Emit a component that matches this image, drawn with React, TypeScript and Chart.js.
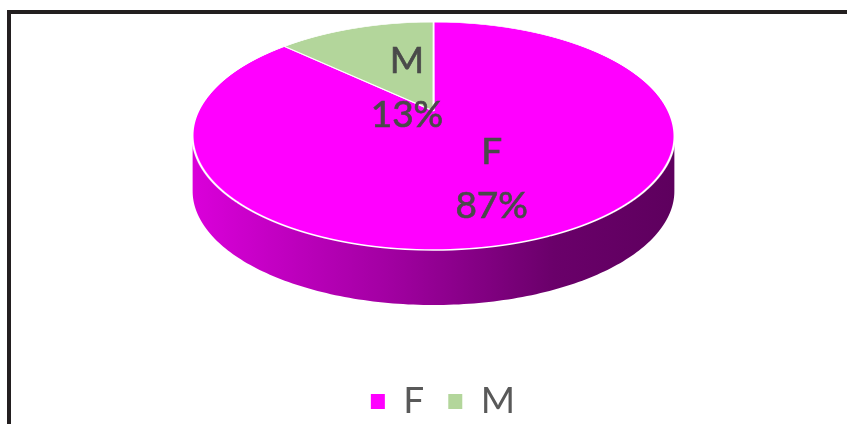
import React, { useEffect, useRef } from "react";
import { Chart, registerables } from "chart.js";

Chart.register(...registerables);

const categories = ["F", "M"];
const values = [87, 13];
const sliceColors = ["#FF00FF", "#B3D69B"];
const sideColors = ["#A000A0", "#7FA66A"];

// perspective projection of the pie's disc (circle -> tilted view)
const X0 = 433.5; // projected centre x
const Y0 = 111; // projected centre y
const A = 235; // horizontal radius factor
const B = 108.5; // vertical radius factor
const K = -0.2195; // perspective strength
const DEPTH = 55; // thickness of the pie
const LABEL_R = 0.45;
const LABEL_DX = 12;
const LABEL_DY = 18.5;

function proj(u: number, v: number): [number, number] {
  const w = 1 + K * v;
  return [X0 + (A * u) / w, Y0 + (B * v) / w];
}
function invV(Y: number) {
  const d = Y - Y0;
  return d / (B - K * d);
}

const pie3d = {
  id: "pie3d",
  beforeDatasetsDraw(chart: any) {
    const ctx = chart.ctx as CanvasRenderingContext2D;
    const arcs = chart.getDatasetMeta(0).data as any[];
    if (!arcs.length) return;

    // ---- side wall (visible front part) ----
    const grad = ctx.createLinearGradient(X0 - 241, 0, X0 + 241, 0);
    grad.addColorStop(0, "#DA00DA");
    grad.addColorStop(0.4, "#A300A3");
    grad.addColorStop(0.75, "#6A006A");
    grad.addColorStop(1, "#5E005E");
    const thR = Math.asin(-K);
    const thL = Math.PI - thR;
    arcs.forEach((arc, i) => {
      const { startAngle, endAngle } = arc.getProps(["startAngle", "endAngle"], true);
      for (const off of [-2 * Math.PI, 0, 2 * Math.PI]) {
        const a0 = Math.max(startAngle, off + thR);
        const a1 = Math.min(endAngle, off + thL);
        if (a1 <= a0) continue;
        const N = 160;
        ctx.beginPath();
        for (let j = 0; j <= N; j++) {
          const t = a0 + ((a1 - a0) * j) / N;
          const [x, y] = proj(Math.cos(t), Math.sin(t));
          if (j === 0) ctx.moveTo(x, y);
          else ctx.lineTo(x, y);
        }
        for (let j = N; j >= 0; j--) {
          const t = a0 + ((a1 - a0) * j) / N;
          const [x, y] = proj(Math.cos(t), Math.sin(t));
          ctx.lineTo(x, y + DEPTH);
        }
        ctx.closePath();
        ctx.fillStyle = i === 0 ? grad : sideColors[i];
        ctx.fill();
      }
    });

    // ---- top face: the library's arcs, drawn row by row through the projection ----
    const a = arcs[0];
    const R = a.outerRadius;
    const ax = a.x;
    const ay = a.y;
    const yTop = Math.floor(Y0 - B / (1 - K)) - 2;
    const yBot = Math.ceil(Y0 + B / (1 + K)) + 2;
    for (let y = yTop; y < yBot; y++) {
      const v0 = invV(y);
      const v1 = invV(y + 1);
      const vm = (v0 + v1) / 2;
      const sx = A / (1 + K * vm) / R;
      const sy = 1 / ((v1 - v0) * R);
      ctx.save();
      ctx.beginPath();
      ctx.rect(0, y, chart.width, 1);
      ctx.clip();
      ctx.translate(X0, y);
      ctx.scale(sx, sy);
      ctx.translate(-ax, -(ay + v0 * R));
      arcs.forEach((el) => el.draw(ctx));
      ctx.restore();
    }

    // ---- data labels ----
    const total = values.reduce((s, v) => s + v, 0);
    ctx.save();
    ctx.font = "37px Lato";
    ctx.fillStyle = "#4A4A4A";
    ctx.strokeStyle = "#4A4A4A";
    ctx.lineWidth = 0.7;
    ctx.textAlign = "center";
    ctx.textBaseline = "middle";
    arcs.forEach((arc, i) => {
      const { startAngle, endAngle } = arc.getProps(["startAngle", "endAngle"], true);
      const mid = (startAngle + endAngle) / 2;
      const [px, py] = proj(LABEL_R * Math.cos(mid), LABEL_R * Math.sin(mid));
      const x = px + LABEL_DX;
      const y = py + LABEL_DY;
      const pct = Math.round((values[i] / total) * 100) + "%";
      ctx.fillText(categories[i], x, y - 27);
      ctx.strokeText(categories[i], x, y - 27);
      ctx.fillText(pct, x, y + 27);
      ctx.strokeText(pct, x, y + 27);
    });
    ctx.restore();
    return false;
  },
};

export default function App() {
  const ref = useRef<HTMLCanvasElement>(null);
  useEffect(() => {
    if (!ref.current) return;
    const chart = new Chart(ref.current, {
      type: "pie",
      data: {
        labels: categories,
        datasets: [
          {
            data: values,
            backgroundColor: sliceColors,
            borderColor: "#FFFFFF",
            borderWidth: 1.5,
          },
        ],
      },
      options: {
        responsive: false,
        animation: false,
        events: [],
        layout: { padding: 0 },
        plugins: {
          tooltip: { enabled: false },
          legend: {
            position: "bottom",
            labels: {
              font: { family: "Lato", size: 37 },
              color: "#595959",
              boxWidth: 14,
              boxHeight: 15,
              padding: 24,
              generateLabels: () =>
                categories.map((t, i) => ({
                  text: t,
                  fillStyle: sliceColors[i],
                  strokeStyle: sliceColors[i],
                  lineWidth: 0,
                  hidden: false,
                  index: i,
                  fontColor: "#595959",
                })),
            },
          },
        },
      },
      plugins: [pie3d],
    });
    return () => chart.destroy();
  }, []);
  return (
    <div
      style={{
        position: "fixed",
        left: 0,
        top: 0,
        width: 847,
        height: 424,
        overflow: "hidden",
        background: "#FFFFFF",
      }}
    >
      <div
        style={{
          position: "absolute",
          left: 7,
          top: 10,
          width: 900,
          height: 500,
          borderLeft: "4px solid #231F20",
          borderTop: "4px solid #231F20",
          boxSizing: "border-box",
        }}
      />
      <canvas
        ref={ref}
        width={886}
        height={430}
        style={{ position: "absolute", left: 0, top: 0, width: 886, height: 430 }}
      />
    </div>
  );
}
